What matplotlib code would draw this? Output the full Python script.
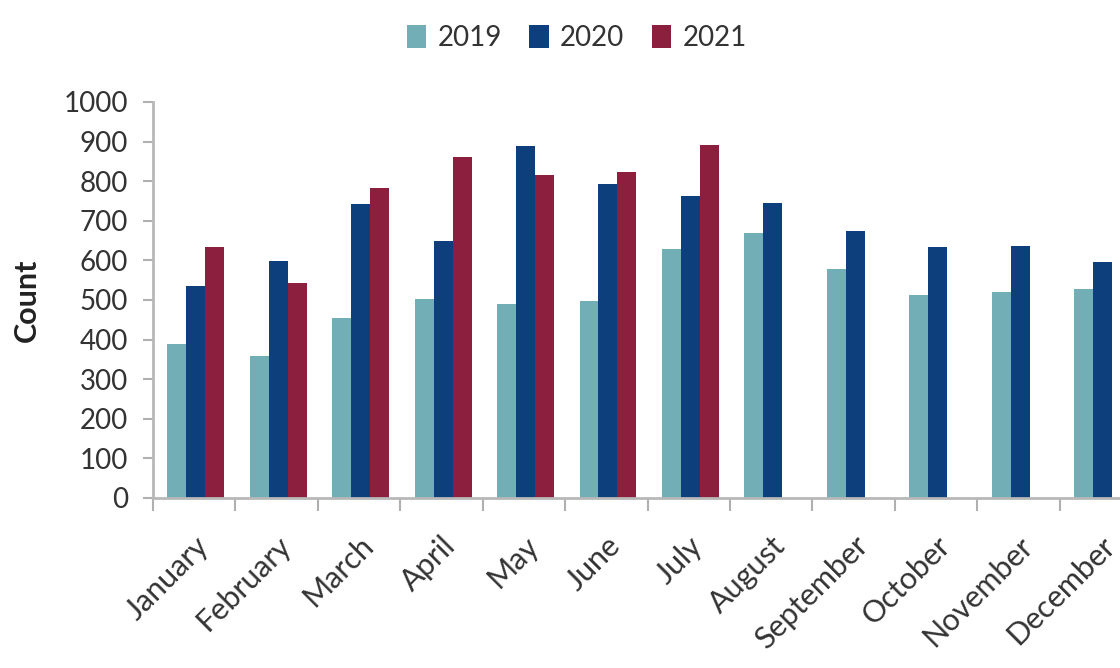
import numpy as np
import matplotlib.pyplot as plt
from matplotlib.ticker import FixedLocator

# data
months = ['January', 'February', 'March', 'April', 'May', 'June', 'July',
          'August', 'September', 'October', 'November', 'December']
counts_2019 = [390, 358, 454, 502, 490, 498, 630, 668, 578, 512, 521, 528]
counts_2020 = [535, 598, 742, 649, 890, 793, 763, 744, 675, 633, 636, 597]
counts_2021 = [635, 544, 784, 860, 815, 823, 891]
years = ['2019', '2020', '2021']
colors = ['#72aeb5', '#0d3f7d', '#8c1f3d']

plt.rcParams['font.family'] = ['Lato', 'DejaVu Sans']

fig = plt.figure(figsize=(11.2, 6.68), dpi=100)
# the plot runs off the right edge in the reference
ax = fig.add_axes([153 / 1120, 1 - 498 / 668, 989 / 1120, (498 - 102) / 668])

x = np.arange(len(months))
w = 0.23
series = [counts_2019, counts_2020, counts_2021]
for i, (vals, yr, c) in enumerate(zip(series, years, colors)):
    xs = x[:len(vals)] + (i - 1) * w + 0.02
    ax.bar(xs, vals, width=w, color=c, label=yr)

ax.set_xlim(-0.5, len(months) - 0.5)
ax.set_ylim(0, 1000)
ax.set_yticks(range(0, 1001, 100))
ax.set_xticks(x)
ax.set_xticklabels(months, rotation=45, ha='right', rotation_mode='anchor',
                   fontsize=22, color='#333333')
ax.xaxis.set_minor_locator(FixedLocator(np.arange(-0.5, len(months), 1)))
ax.tick_params(axis='x', which='major', length=0, pad=24)
ax.tick_params(axis='x', which='minor', length=9, color='#b0b0b0', width=1.5)
ax.tick_params(axis='y', length=7, color='#b0b0b0', width=1.5, labelsize=20,
               labelcolor='#333333', pad=11)

for s in ['top', 'right']:
    ax.spines[s].set_visible(False)
for s in ['left', 'bottom']:
    ax.spines[s].set_color('#b8b8b8')
    ax.spines[s].set_linewidth(2)

ax.set_ylabel('Count', fontsize=22, fontweight='bold', color='#222222', labelpad=16)

fig.legend(loc='upper center', bbox_to_anchor=(0.515, 1.0), ncol=3, frameon=False,
           fontsize=20, handlelength=0.7, handleheight=0.9, handletextpad=0.4,
           columnspacing=1.0, labelcolor='#333333')

fig.savefig('out.png', dpi=100)
